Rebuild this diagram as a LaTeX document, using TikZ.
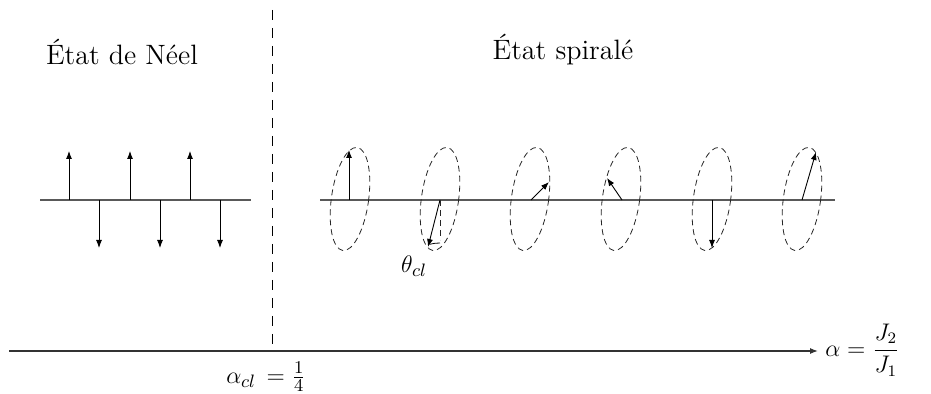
\documentclass[tikz,border=0pt]{standalone}
\usetikzlibrary{arrows.meta}
\begin{document}
\begin{tikzpicture}[x=0.5pt,y=-0.5pt,
  chain/.style={draw=black!65, line width=0.6pt},
  spin/.style={draw=black, line width=0.45pt, -{Latex[length=4pt,width=3pt]}},
  cone/.style={draw=black!85, line width=0.4pt, dash pattern=on 3pt off 2pt},
  lbl/.style={inner sep=0pt, font=\fontsize{14}{17}\selectfont},
  mlbl/.style={inner sep=0pt, font=\fontsize{13}{16}\selectfont},
  flbl/.style={inner sep=0pt, font=\fontsize{11.5}{14}\selectfont}]
\useasboundingbox (0,0) rectangle (931,394);
% titles
\node[lbl] (neel) at (122,52) {État de Néel};
\node[lbl] (spir) at (563,50) {État spiralé};
% separator and axis
\coordinate (septop) at (272,10);
\coordinate (axl) at (9,351);
\coordinate (axr) at (818,351);
\coordinate (sepbot) at (272,351);
\draw[draw=black, line width=0.45pt, dash pattern=on 5pt off 4pt] (septop) -- (sepbot);
\draw[line width=0.6pt, draw=black!80, -{Latex[length=4pt,width=3pt]}] (axl) -- (axr);
\node[flbl, anchor=west] (alab) at (825,350) {$\alpha = \displaystyle\frac{J_2}{J_1}$};
\node[mlbl] (acl) at (266,377) {$\alpha_{cl} \,= \frac{1}{4}$};
% Neel chain
\coordinate (nl) at (40,200);
\coordinate (nr) at (251,200);
\draw[chain] (nl) -- (nr);
\foreach \x in {69,130,190} {
  \coordinate (u\x) at (\x,200);
  \coordinate (ut\x) at (\x,151);
  \draw[spin] (u\x) -- (ut\x);
}
\foreach \x in {99,160,220} {
  \coordinate (d\x) at (\x,200);
  \coordinate (dt\x) at (\x,248);
  \draw[spin] (d\x) -- (dt\x);
}
% spiral chain
\coordinate (sl) at (320,200);
\coordinate (sr) at (835,200);
\draw[chain] (sl) -- (sr);
\foreach \x in {350,440,530,621,712,802} {
  \draw[cone, rotate around={-8:(\x,199)}] (\x,199) ellipse [x radius=9.3pt, y radius=26pt];
}
\coordinate (s1) at (349,200); \coordinate (e1) at (349,150);
\coordinate (s2) at (440,200); \coordinate (e2) at (428,247);
\coordinate (s3) at (531,200); \coordinate (e3) at (549,182);
\coordinate (s4) at (622,200); \coordinate (e4) at (607,178);
\coordinate (s5) at (712,200); \coordinate (e5) at (712,248);
\coordinate (s6) at (802,200); \coordinate (e6) at (816,152);
\foreach \i in {1,...,6} { \draw[spin] (s\i) -- (e\i); }
% angle
\coordinate (v2) at (440,240);
\draw[cone] (s2) -- (v2);
\draw[line width=0.4pt] (440,243) arc[start angle=90, end angle=104, radius=21.5pt];
\node[mlbl] (theta) at (414,266) {$\theta_{cl}$};
\end{tikzpicture}
\end{document}
